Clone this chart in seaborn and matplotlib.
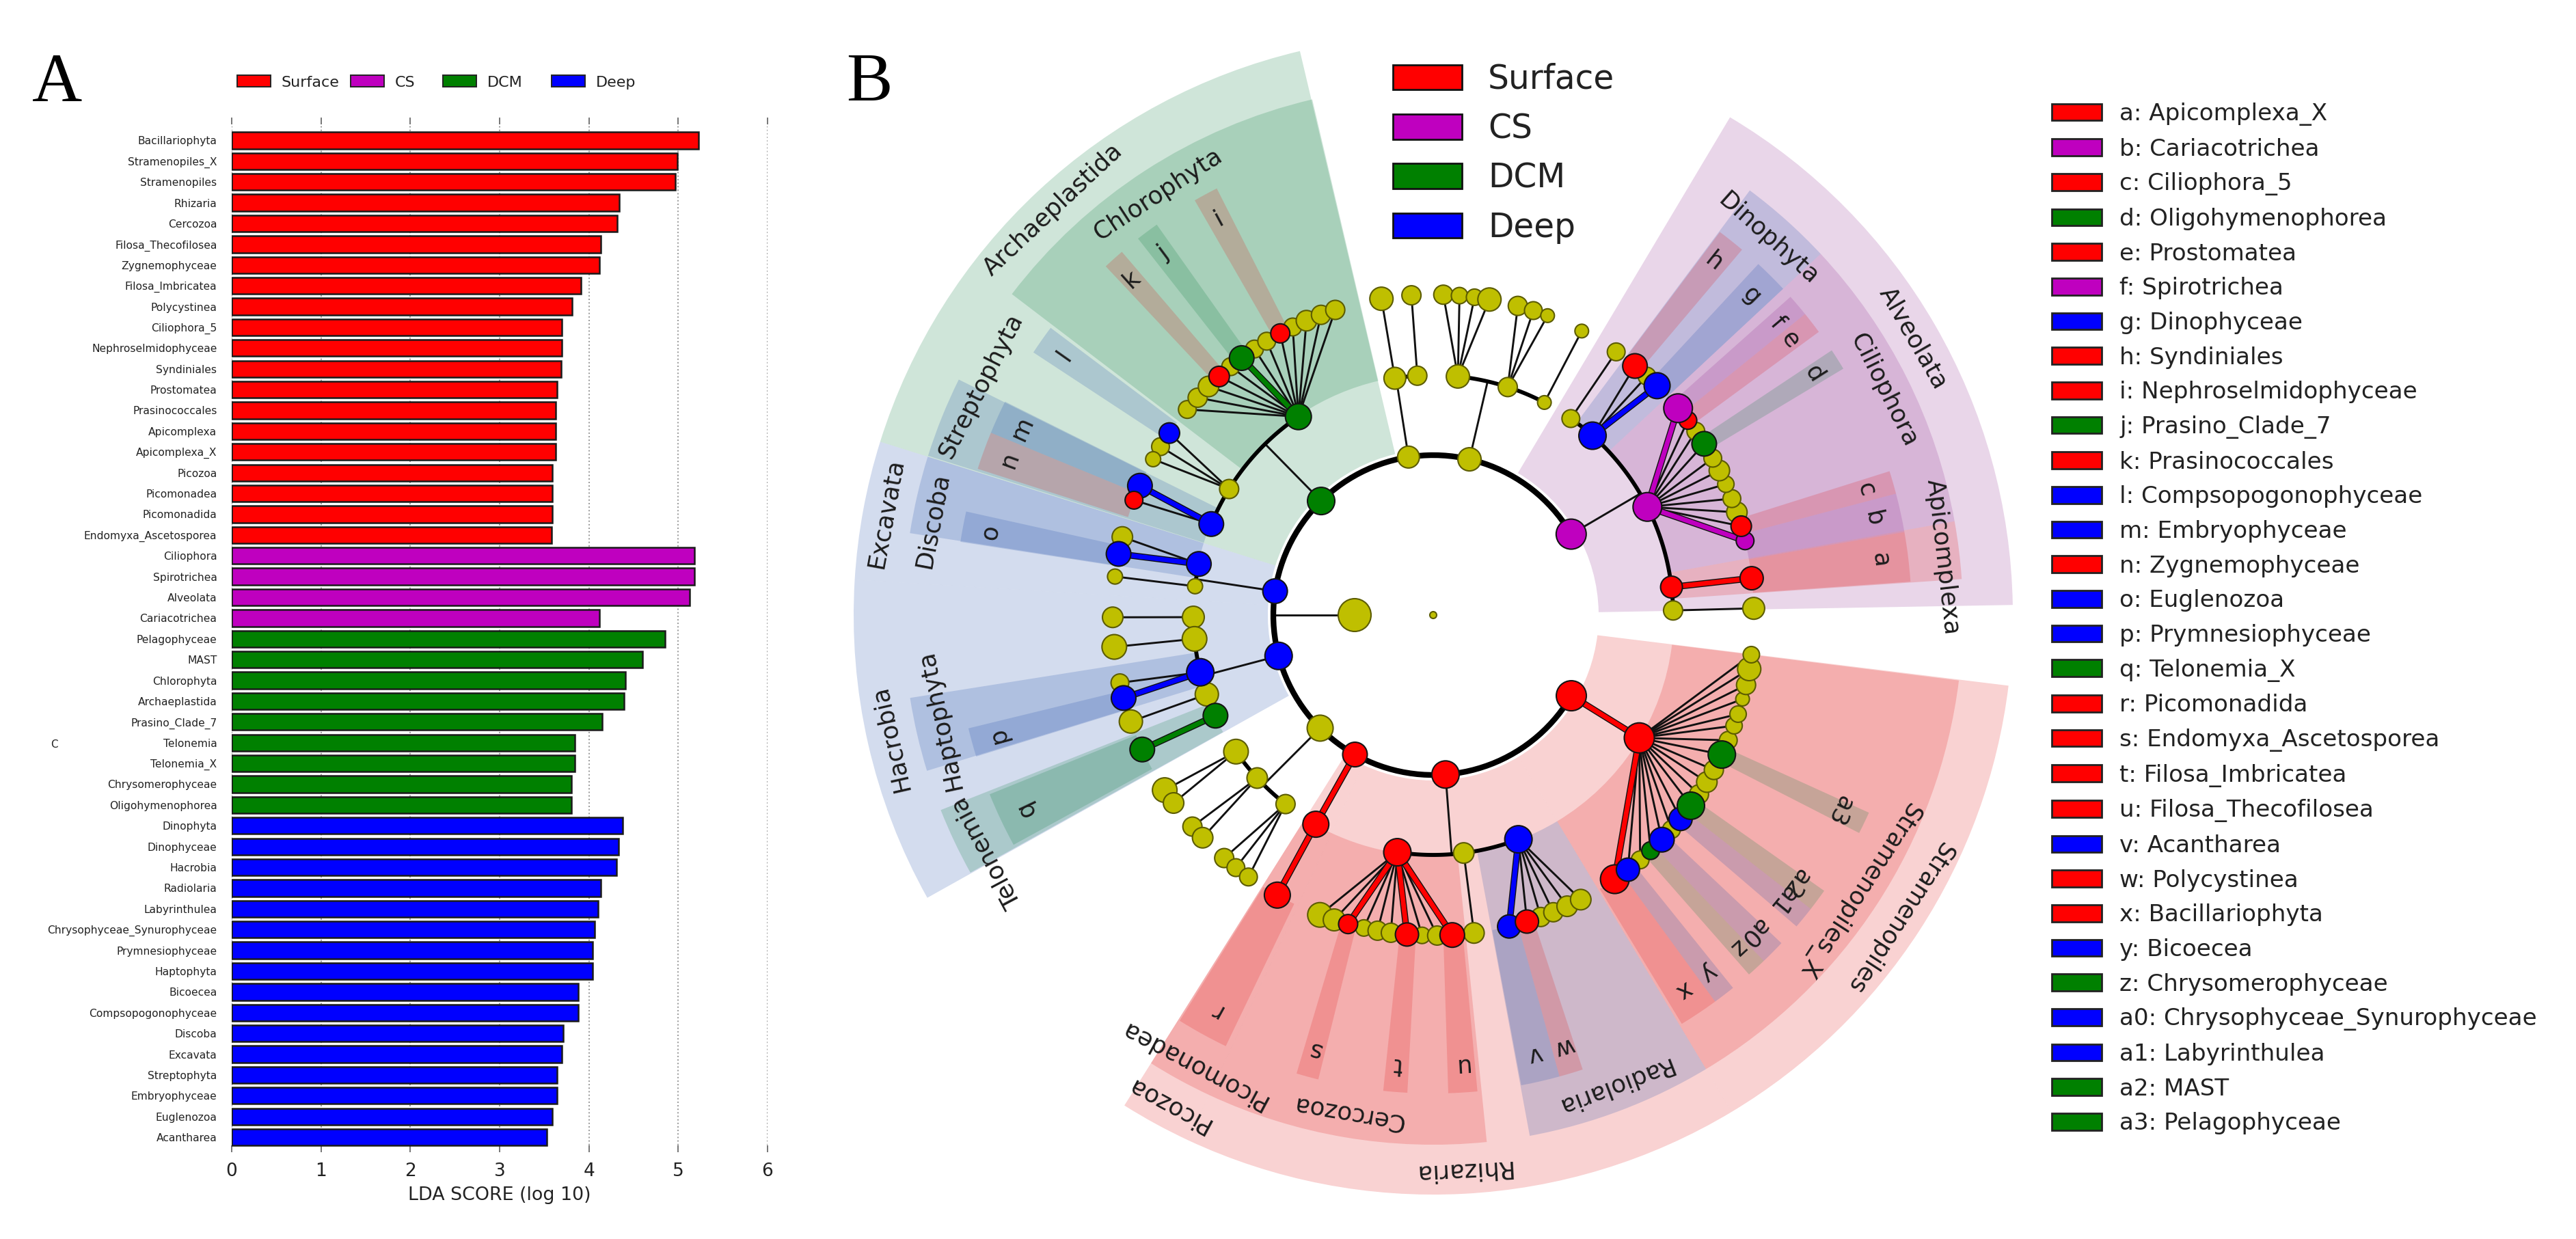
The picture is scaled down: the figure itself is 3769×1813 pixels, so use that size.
import numpy as np
import pandas as pd
import seaborn as sns
import matplotlib
matplotlib.use("Agg")
import matplotlib.pyplot as plt
from matplotlib.patches import Patch

# 1. Panel A values, LDA scores
taxa = ['Bacillariophyta', 'Stramenopiles_X', 'Stramenopiles', 'Rhizaria', 'Cercozoa', 'Filosa_Thecofilosea',
        'Zygnemophyceae', 'Filosa_Imbricatea', 'Polycystinea', 'Ciliophora_5', 'Nephroselmidophyceae', 'Syndiniales',
        'Prostomatea', 'Prasinococcales', 'Apicomplexa', 'Apicomplexa_X', 'Picozoa', 'Picomonadea', 'Picomonadida',
        'Endomyxa_Ascetosporea',
        'Ciliophora', 'Spirotrichea', 'Alveolata', 'Cariacotrichea',
        'Pelagophyceae', 'MAST', 'Chlorophyta', 'Archaeplastida', 'Prasino_Clade_7', 'Telonemia', 'Telonemia_X',
        'Chrysomerophyceae', 'Oligohymenophorea',
        'Dinophyta', 'Dinophyceae', 'Hacrobia', 'Radiolaria', 'Labyrinthulea', 'Chrysophyceae_Synurophyceae',
        'Prymnesiophyceae', 'Haptophyta', 'Bicoecea', 'Compsopogonophyceae', 'Discoba', 'Excavata', 'Streptophyta',
        'Embryophyceae', 'Euglenozoa', 'Acantharea']
lda_score = [5.23, 4.99, 4.97, 4.34, 4.32, 4.13, 4.12, 3.91, 3.81, 3.70, 3.70, 3.69, 3.64, 3.63, 3.63, 3.63, 3.59,
             3.59, 3.59, 3.58,
             5.18, 5.18, 5.13, 4.12,
             4.85, 4.60, 4.41, 4.39, 4.15, 3.84, 3.84, 3.80, 3.80,
             4.38, 4.33, 4.31, 4.13, 4.10, 4.06, 4.04, 4.04, 3.88, 3.88, 3.71, 3.70, 3.64, 3.64, 3.59, 3.53]
taxa_group = ['Surface'] * 20 + ['CS'] * 4 + ['DCM'] * 9 + ['Deep'] * 16

groups = ['Surface', 'CS', 'DCM', 'Deep']
group_colors = {'Surface': '#FF0000', 'CS': '#BF00BF', 'DCM': '#008000', 'Deep': '#0000FF', 'none': '#BFBF00'}
shade_colors = {'Surface': '#E11E1E', 'CS': '#913291', 'DCM': '#0F7D41', 'Deep': '#2350AA'}

# 2. Panel B shaded sectors, angles in degrees
clade_names = ['Archaeplastida', 'Excavata', 'Hacrobia', 'Picozoa', 'Rhizaria', 'Stramenopiles', 'Alveolata',
               'Chlorophyta', 'Streptophyta', 'Discoba', 'Haptophyta', 'Telonemia', 'Picomonadea', 'Cercozoa',
               'Radiolaria', 'Stramenopiles_X', 'Apicomplexa', 'Ciliophora', 'Dinophyta']
clade_start = [103.3, 162.6, 176.5, -122.2, -115.0, -59.0, 1.0,
               103.2, 153.6, 162.6, 189.0, 201.6, -122.2, -115.0, -79.5, -59.0, 3.9, 10.2, 43.0]
clade_end = [162.6, 176.5, 209.2, -115.0, -59.0, -7.0, 59.2,
             142.7, 162.5, 171.1, 197.1, 209.1, -115.0, -84.2, -59.0, -7.1, 10.2, 43.0, 53.3]
clade_inner = [242] * 7 + [352] * 12
clade_outer = [848] * 7 + [775] * 12
clade_group = ['DCM', 'Deep', 'Deep', 'Surface', 'Surface', 'Surface', 'CS',
               'DCM', 'Deep', 'Deep', 'Deep', 'DCM', 'Surface', 'Surface', 'Deep', 'Surface', 'Surface', 'CS', 'Deep']
clade_label_angle = [133.2, 169.5, 192.8, -118.5, -87.0, -33.0, 30.0,
                     123.2, 153.1, 169.3, 192.0, 208.0, -118.1, -99.7, -69.0, -32.9, 6.5, 26.5, 48.3]
clade_label_radius = [813, 815, 814, 815, 813, 813, 811,
                      736, 742, 746, 738, 740, 746, 739, 738, 741, 750, 737, 737]

class_letters = ['a', 'b', 'c', 'd', 'e', 'f', 'g', 'h', 'i', 'j', 'k', 'l', 'm', 'n', 'o', 'p', 'q', 'r', 's', 't',
                 'u', 'v', 'w', 'x', 'y', 'z', 'a0', 'a1', 'a2', 'a3']
class_names = ['Apicomplexa_X', 'Cariacotrichea', 'Ciliophora_5', 'Oligohymenophorea', 'Prostomatea', 'Spirotrichea',
               'Dinophyceae', 'Syndiniales', 'Nephroselmidophyceae', 'Prasino_Clade_7', 'Prasinococcales',
               'Compsopogonophyceae', 'Embryophyceae', 'Zygnemophyceae', 'Euglenozoa', 'Prymnesiophyceae',
               'Telonemia_X', 'Picomonadida', 'Endomyxa_Ascetosporea', 'Filosa_Imbricatea', 'Filosa_Thecofilosea',
               'Acantharea', 'Polycystinea', 'Bacillariophyta', 'Bicoecea', 'Chrysomerophyceae',
               'Chrysophyceae_Synurophyceae', 'Labyrinthulea', 'MAST', 'Pelagophyceae']
class_group = ['Surface', 'CS', 'Surface', 'DCM', 'Surface', 'CS', 'Deep', 'Surface', 'Surface', 'DCM', 'Surface',
               'Deep', 'Deep', 'Surface', 'Deep', 'Deep', 'DCM', 'Surface', 'Surface', 'Surface', 'Surface',
               'Deep', 'Surface', 'Surface', 'Deep', 'DCM', 'Deep', 'Deep', 'DCM', 'DCM']
class_start = [4.0, 10.0, 14.7, 31.0, 36.3, 39.0, 43.0, 49.8, 116.9, 125.3, 130.6, 143.1, 153.5, 157.6, 167.5, 193.7,
               202.0, -122.0, -106.6, -96.0, -88.2, -79.4, -74.7, -58.7, -53.9, -48.7, -46.3, -40.6, -37.9, -27.1]
class_end = [10.0, 14.7, 17.5, 33.6, 39.0, 41.7, 47.2, 53.2, 119.9, 128.1, 133.2, 146.7, 157.6, 162.2, 171.2, 197.2,
             208.7, -115.7, -103.9, -93.1, -84.7, -74.7, -71.8, -53.9, -51.2, -46.3, -43.3, -37.9, -35.2, -24.4]

# 3. Panel B tree, one list per ring of nodes
ring_angle = [30.4, 76.9, 98.9, 134.5, 171.4, 194.8, 225.0, 240.7, -85.6, -30.3]
ring_group = ['CS', 'none', 'none', 'DCM', 'Deep', 'Deep', 'none', 'Surface', 'Surface', 'Surface']
ring_size = [22, 17, 16, 20, 18, 20, 19, 18, 20, 22]

mid_angle = [55.0, 48.4, 26.8, 6.7, 1.1, 84.1, 71.9, 62.4, 99.2, 93.8, 124.2, 148.3, 157.7, 167.7, 173.1, 180.5,
             185.7, 193.8, 199.3, 204.8, 214.7, 222.8, 232.0, 240.7, -98.6, -82.7, -69.2, -30.8]
mid_group = ['none', 'Deep', 'CS', 'Surface', 'none', 'none', 'none', 'none', 'none', 'none', 'DCM', 'none', 'Deep',
             'Deep', 'none', 'none', 'none', 'Deep', 'none', 'DCM', 'none', 'none', 'none', 'Surface', 'Surface',
             'none', 'Deep', 'Surface']
mid_size = [13, 20, 21, 16, 14, 17, 14, 10, 16, 14, 19, 14, 18, 18, 11, 16, 18, 20, 17, 18, 18, 15, 14, 19, 20, 15,
            20, 22]
mid_ring = [30.4, 30.4, 30.4, 30.4, 30.4, 76.9, 76.9, 76.9, 98.9, 98.9, 134.5, 134.5, 134.5, 171.4, 171.4, 194.8,
            194.8, 194.8, 194.8, 194.8, 225.0, 225.0, 225.0, 240.7, -85.6, -85.6, -85.6, -30.3]

leaf_angle = [55.2, 45.7, 48.2, 51.0,
              13.4, 16.1, 18.7, 21.3, 24.1, 26.8, 29.3, 32.3, 35.0, 37.4, 40.2,
              6.6, 1.2, 88.2, 85.3, 82.6, 79.9, 74.7, 71.8, 69.1, 62.4, 99.3, 93.9,
              140.1, 137.3, 134.5, 131.9, 129.2, 126.7, 123.9, 121.3, 118.5, 116.0, 113.3, 110.5, 107.8,
              145.4, 148.3, 150.9, 156.2, 159.0, 169.0, 165.9, 173.1, 180.4, 185.7, 195.0, 192.2, 199.4, 204.8,
              213.1, 215.9, 221.3, 224.0, 229.3, 232.0, 234.8, 240.9,
              -110.7, -108.0, -105.4, -102.5, -100.0, -97.6, -94.7, -92.0, -89.3, -86.6, -82.7,
              -76.3, -73.0, -70.4, -68.0, -65.3, -62.6,
              -55.5, -52.6, -49.8, -47.3, -44.5, -42.0, -39.5, -36.5, -34.0, -31.4, -28.9, -25.8, -23.0, -20.2, -18.0,
              -15.2, -12.6, -9.7, -7.1]
leaf_group = ['none', 'Deep', 'none', 'Surface',
              'CS', 'Surface', 'none', 'none', 'none', 'none', 'none', 'DCM', 'none', 'Surface', 'CS',
              'Surface', 'none', 'none', 'none', 'none', 'none', 'none', 'none', 'none', 'none', 'none', 'none',
              'none', 'none', 'none', 'Surface', 'none', 'DCM', 'none', 'none', 'Surface', 'none', 'none', 'none',
              'none',
              'Deep', 'none', 'none', 'Deep', 'Surface', 'Deep', 'none', 'none', 'none', 'none', 'Deep', 'none',
              'none', 'DCM',
              'none', 'none', 'none', 'none', 'none', 'none', 'none', 'Surface',
              'none', 'none', 'Surface', 'none', 'none', 'none', 'Surface', 'none', 'none', 'Surface', 'none',
              'Deep', 'Surface', 'none', 'none', 'none', 'none',
              'Surface', 'Deep', 'none', 'DCM', 'Deep', 'none', 'Deep', 'DCM', 'none', 'none', 'none', 'DCM', 'none',
              'none', 'none', 'none', 'none', 'none', 'none']
leaf_size = [13, 19, 13, 18,
             13, 15, 15, 13, 12, 15, 13, 18, 13, 13, 21,
             17, 16, 14, 12, 12, 17, 14, 13, 10, 10, 17, 14,
             13, 14, 15, 15, 13, 18, 13, 13, 14, 13, 15, 14, 14,
             15, 13, 11, 18, 13, 18, 15, 11, 15, 18, 18, 13, 17, 18,
             18, 15, 14, 15, 14, 13, 13, 19,
             18, 16, 14, 12, 14, 14, 17, 12, 14, 18, 15,
             17, 17, 14, 14, 15, 15,
             21, 17, 13, 13, 18, 13, 17, 20, 14, 15, 14, 20, 13, 12, 12, 10, 14, 17, 12]
leaf_mid = [55.0, 48.4, 48.4, 48.4] + [26.8] * 11 + [6.7, 1.1] + [84.1] * 4 + [71.9] * 3 + [62.4, 99.2, 93.8] \
    + [124.2] * 13 + [148.3] * 3 + [157.7] * 2 + [167.7] * 2 + [173.1, 180.5, 185.7, 193.8, 193.8, 199.3, 204.8] \
    + [214.7] * 2 + [222.8] * 2 + [232.0] * 3 + [240.7] + [-98.6] * 10 + [-82.7] + [-69.2] * 6 + [-30.8] * 19

centre_angle = [180.0, 0.0]
centre_radius = [115, 0]
centre_size = [24, 5]

RING_R, MID_R, LEAF_R = 234, 351, 469
LABEL_R = 660

sns.set_style("white")
plt.rcParams['font.family'] = ['DejaVu Sans']
PW, PH = 3769, 1813
fig = plt.figure(figsize=(PW / 100, PH / 100), dpi=100, facecolor='white')

# 4. Panel A bars
ax_bar = fig.add_axes([339 / PW, 1 - 1686 / PH, 784 / PW, (1686 - 172) / PH])
bars_df = pd.DataFrame({'taxon': taxa, 'score': lda_score, 'group': taxa_group})
sns.barplot(data=bars_df, x='score', y='taxon', hue='group', palette=group_colors, dodge=False, width=0.8,
            saturation=1, edgecolor='#1a1a1a', linewidth=1.8, legend=False, ax=ax_bar)
ax_bar.set_xlim(0, 6)
ax_bar.set_ylim(48.72, -1.1)
ax_bar.set_xticks(range(7))
ax_bar.set_ylabel('')
ax_bar.set_xlabel('LDA SCORE (log 10)', fontsize=19.4, color='#222222', labelpad=6)
ax_bar.grid(axis='x', linestyle=':', color='#999999', linewidth=1.4)
ax_bar.set_axisbelow(True)
ax_bar.tick_params(axis='x', top=True, bottom=True, direction='in', length=7, width=1.4, color='#777777',
                   labelsize=19, pad=11, labelcolor='#222222')
ax_bar.tick_params(axis='y', left=False, labelsize=11.2, pad=12, labelcolor='#222222')
sns.despine(ax=ax_bar, left=True, right=True, top=True, bottom=True)

# one small legend per group, the boxes sit at uneven distances
for g, left in zip(groups, [347, 513, 648, 807]):
    fig.legend(handles=[Patch(facecolor=group_colors[g], edgecolor='#222222', linewidth=1.4, label=g)],
               loc='center left', bbox_to_anchor=(left / PW, 1 - 120.5 / PH), frameon=False, fontsize=16,
               borderpad=0, borderaxespad=0, handlelength=2.2, handleheight=0.8, handletextpad=0.7,
               labelcolor='#222222')

fig.text(84 / PW, 1 - 124 / PH, 'A', family='Liberation Serif', fontsize=73, ha='center', va='center', color='black')
fig.text(1272 / PW, 1 - 124 / PH, 'B', family='Liberation Serif', fontsize=73, ha='center', va='center',
         color='black')
fig.text(79 / PW, 1 - 1089 / PH, 'C', fontsize=11, ha='center', va='center', color='#222222')

# 5. Panel B cladogram on polar axes, radius unit is one pixel
R_MAX = 880
ax_tree = fig.add_axes([(2097 - R_MAX) / PW, (PH - 900 - R_MAX) / PH, 2 * R_MAX / PW, 2 * R_MAX / PH],
                       projection='polar')
ax_tree.patch.set_visible(False)


def sector(start, end, inner, outer, group, zorder):
    ax_tree.bar(np.radians(start), outer - inner, width=np.radians(end - start), bottom=inner, align='edge',
                color=shade_colors[group], alpha=0.2, linewidth=0, zorder=zorder)


for i in range(len(clade_names)):
    sector(clade_start[i], clade_end[i], clade_inner[i], clade_outer[i], clade_group[i], 1 if i < 7 else 1.5)
for i in range(len(class_letters)):
    sector(class_start[i], class_end[i], LEAF_R, 700, class_group[i], 2)


def link(a1, r1, a2, r2, group=None):
    xs, ys = np.radians([a1, a2]), [r1, r2]
    if group is None:
        ax_tree.plot(xs, ys, color='#111111', linewidth=2.1, zorder=3, solid_capstyle='round')
    else:
        ax_tree.plot(xs, ys, color='#111111', linewidth=7.0, zorder=3.2, solid_capstyle='round')
        ax_tree.plot(xs, ys, color=group_colors[group], linewidth=5.0, zorder=3.3, solid_capstyle='round')


def arc(a1, a2, r, width):
    theta = np.radians(np.linspace(a1, a2, 120))
    ax_tree.plot(theta, np.full(120, r), color='black', linewidth=width, zorder=3.1)


# main ring, open across the 0 degree side
arc(30.4, 360 - 30.3, RING_R, 6.0)

link(180.0, 115, 180.0, RING_R)
for a, group in zip(ring_angle, ring_group):
    kids = [m for m, p in zip(mid_angle, mid_ring) if p == a]
    kid_groups = [g for g, p in zip(mid_group, mid_ring) if p == a]
    if len(kids) == 1:
        link(a, RING_R, kids[0], MID_R, group if kid_groups[0] == group else None)
    else:
        link(a, RING_R, a, MID_R)
        arc(min(kids), max(kids), MID_R, 4.2)

for a, group in zip(mid_angle, mid_group):
    kids = [(la, lg) for la, lg, p in zip(leaf_angle, leaf_group, leaf_mid) if p == a]
    for la, lg in kids:
        link(a, MID_R, la, LEAF_R, lg if (lg == group and group != 'none') else None)

nodes = pd.DataFrame({
    'theta': np.radians(ring_angle + mid_angle + leaf_angle + centre_angle),
    'radius': [RING_R] * len(ring_angle) + [MID_R] * len(mid_angle) + [LEAF_R] * len(leaf_angle) + centre_radius,
    'group': ring_group + mid_group + leaf_group + ['none'] * len(centre_angle),
    'size': ring_size + mid_size + leaf_size + centre_size,
})
size_map = {s: (2 * s * 0.72) ** 2 for s in nodes['size'].unique()}
for is_plain, edge, z in [(True, '#5c5c00', 5), (False, '#141414', 6)]:
    part = nodes[(nodes['group'] == 'none') == is_plain]
    sns.scatterplot(data=part, x='theta', y='radius', hue='group', palette=group_colors, size='size', sizes=size_map,
                    edgecolor=edge, linewidth=1.5, legend=False, zorder=z, ax=ax_tree)

for name, a, r in zip(clade_names, clade_label_angle, clade_label_radius):
    ax_tree.text(np.radians(a), r, name, rotation=a - 90, rotation_mode='anchor', ha='center', va='center',
                 fontsize=25.6, color='#1c1c1c', zorder=8)
for letter, s, e in zip(class_letters, class_start, class_end):
    mid = (s + e) / 2
    ax_tree.text(np.radians(mid), LABEL_R, letter, rotation=mid - 90, rotation_mode='anchor', ha='center',
                 va='center', fontsize=25.6, color='#1c1c1c', zorder=8)

ax_tree.set_ylim(0, R_MAX)
ax_tree.set_axis_off()

# 6. Panel B legends
fig.legend(handles=[Patch(facecolor=group_colors[g], edgecolor='#111111', linewidth=2, label=g) for g in groups],
           loc='upper left', bbox_to_anchor=(2038 / PW, 1 - 92 / PH), frameon=False, fontsize=35, borderpad=0,
           borderaxespad=0, handlelength=2.08, handleheight=0.78, handletextpad=0.78, labelspacing=0.5,
           labelcolor='#222222')
fig.legend(handles=[Patch(facecolor=group_colors[g], edgecolor='#222222', linewidth=2, label=f'{l}: {n}')
                    for l, n, g in zip(class_letters, class_names, class_group)],
           loc='upper left', bbox_to_anchor=(3002 / PW, 1 - 150 / PH), frameon=False, fontsize=24.6, borderpad=0,
           borderaxespad=0, handlelength=2.15, handleheight=0.74, handletextpad=0.76, labelspacing=0.517,
           labelcolor='#222222')

fig.savefig('out.png', dpi=100, facecolor='white')
